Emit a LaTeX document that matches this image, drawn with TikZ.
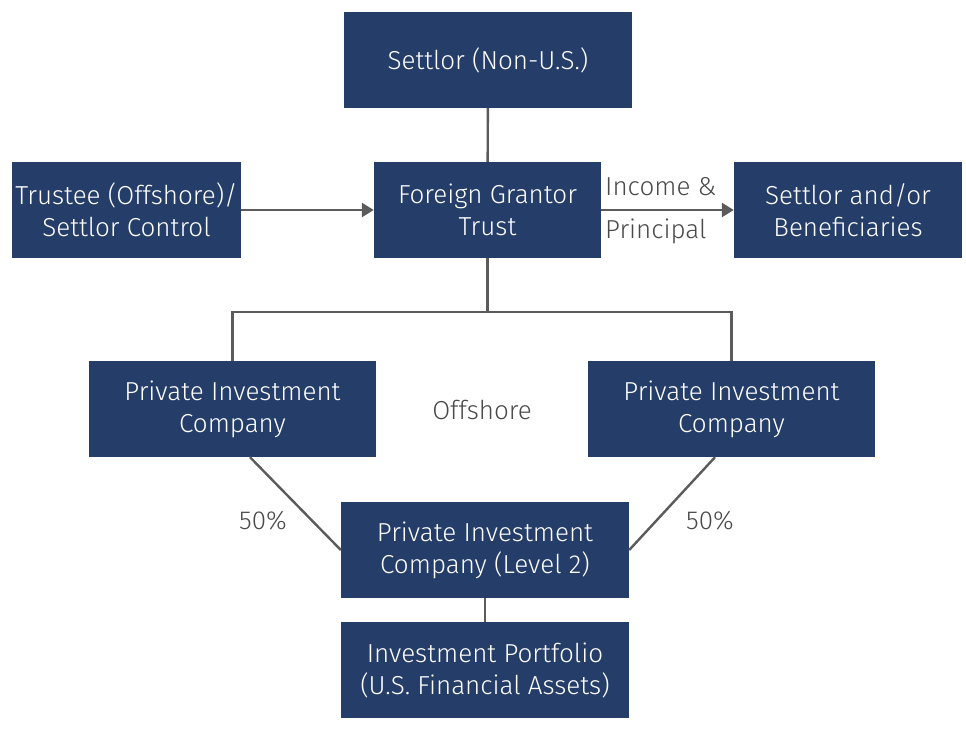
\documentclass[tikz,border=0pt]{standalone}
\usepackage{fontspec}
\setmainfont{Fira Sans}[UprightFont=* Light]
\usetikzlibrary{arrows.meta}
\definecolor{boxblue}{HTML}{253D69}
\definecolor{linegray}{HTML}{5B5B5B}
\definecolor{labelgray}{HTML}{4A4A4A}
\begin{document}
\begin{tikzpicture}[x=1pt,y=-1pt,
  entity/.style={fill=boxblue, text=white, align=center, inner sep=0pt,
    font=\fontsize{26}{32}\selectfont, minimum height=96pt},
  link/.style={draw=linegray, line width=2.4pt},
  flow/.style={link, -{Triangle[length=12pt,width=14pt]}},
  caption/.style={text=labelgray, font=\fontsize{26}{32}\selectfont, inner sep=0pt}]
\useasboundingbox (0,0) rectangle (966,728);

% entities
\node[entity, minimum width=288pt] (settlor) at (488,60) {Settlor (Non-U.S.)};
\node[entity, minimum width=229pt] (trustee) at (126.5,210) {Trustee (Offshore)/\\Settlor Control};
\node[entity, minimum width=227pt] (trust) at (487.5,210) {Foreign Grantor\\Trust};
\node[entity, minimum width=228pt] (benef) at (848,210) {Settlor and/or\\Beneficiaries};
\node[entity, minimum width=287pt] (picL) at (232.5,409) {Private Investment\\Company};
\node[entity, minimum width=287pt] (picR) at (731.5,409) {Private Investment\\Company};
\node[entity, minimum width=288pt] (pic2) at (485,550) {Private Investment\\Company (Level 2)};
\node[entity, minimum width=288pt] (port) at (485,670) {Investment Portfolio\\(U.S. Financial Assets)};

% connectors
\coordinate (split) at (487.5,312);
\draw[link] (settlor) -- (trust);
\draw[link] (trust) -- (split) -| (picL);
\draw[link] (split) -| (picR);
\draw[flow] (trustee) -- (trust);
\draw[flow] (trust) -- (benef);
\draw[link] ([xshift=17.5pt]picL.south) -- (pic2.west);
\draw[link] ([xshift=-16.5pt]picR.south) -- (pic2.east);
\draw[link] (pic2) -- (port);

% labels
\node[caption, anchor=west] (inc) at (605,187) {Income \&};
\node[caption, anchor=west] (prin) at (605,231) {Principal};
\node[caption] (offshore) at (482,410) {Offshore};
\node[caption] (pctL) at (263,521) {50\%};
\node[caption] (pctR) at (710,521) {50\%};
\end{tikzpicture}
\end{document}
